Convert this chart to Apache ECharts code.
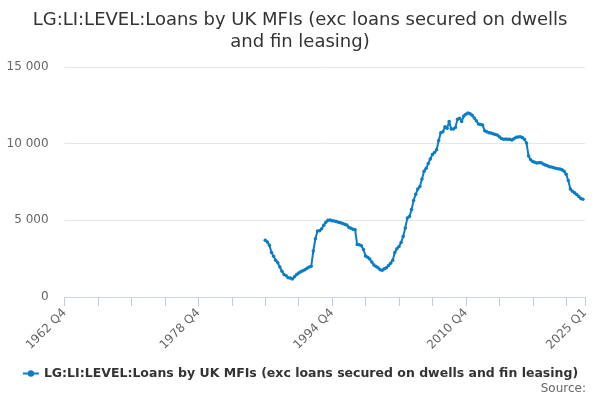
<!DOCTYPE html>
<html>
<head>
<meta charset="utf-8">
<title>LG:LI:LEVEL</title>
<script src="https://cdn.jsdelivr.net/npm/echarts@6/dist/echarts.min.js"></script>
<style>
    html, body { margin: 0; padding: 0; background: #fff; }
    #chart { width: 600px; height: 400px; }
</style>
</head>
<body>
<div id="chart"></div>
<script>
const TITLE = 'LG:LI:LEVEL:Loans by UK MFIs (exc loans secured on dwells\nand fin leasing)';
const SERIES_NAME = 'LG:LI:LEVEL:Loans by UK MFIs (exc loans secured on dwells and fin leasing)';

// quarterly axis runs 1962 Q4 .. 2025 Q1
const AXIS_START = [1962, 4];
const AXIS_END = [2025, 1];
// series begins at 1986 Q4
const SERIES_START = [1986, 4];

const loans = [
    3700, 3580, 3380, 2900, 2650, 2400, 2230, 1950, 1680, 1470,
    1380, 1260, 1240, 1180, 1320, 1470, 1560, 1640, 1710, 1780,
    1870, 1950, 2000, 3000, 3800, 4300, 4320, 4450, 4680, 4880,
    5000, 5020, 4980, 4950, 4920, 4880, 4850, 4800, 4740, 4700,
    4550, 4480, 4420, 4380, 3420, 3400, 3340, 3100, 2680, 2600,
    2480, 2280, 2090, 1990, 1900, 1770, 1740, 1840, 1900, 2050,
    2200, 2400, 2900, 3150, 3300, 3550, 3950, 4500, 5150, 5250,
    5700, 6300, 6700, 7050, 7200, 7700, 8200, 8390, 8700, 9000,
    9300, 9420, 9600, 10200, 10720, 10780, 11100, 11000, 11450, 10950,
    10950, 11050, 11600, 11650, 11450, 11800, 11920, 12000, 11950, 11850,
    11680, 11500, 11280, 11250, 11220, 10850, 10780, 10720, 10700, 10650,
    10600, 10560, 10450, 10330, 10290, 10300, 10290, 10280, 10240, 10320,
    10420, 10440, 10450, 10400, 10290, 10050, 9200, 8950, 8830, 8780,
    8740, 8760, 8760, 8680, 8610, 8560, 8500, 8480, 8430, 8390,
    8360, 8340, 8300, 8200, 8000, 7600, 7050, 6900, 6800, 6680,
    6550, 6430, 6370
];

const yTicks = [0, 5000, 10000, 15000];

const quarters = [];
for (let y = AXIS_START[0], q = AXIS_START[1]; y < AXIS_END[0] || (y === AXIS_END[0] && q <= AXIS_END[1]); ) {
    quarters.push(y + ' Q' + q);
    q++;
    if (q > 4) { q = 1; y++; }
}
const lastIndex = quarters.length - 1;
const offset = quarters.indexOf(SERIES_START[0] + ' Q' + SERIES_START[1]);
const seriesData = quarters.map((_, i) => {
    const v = loans[i - offset];
    return v === undefined ? null : v;
});

const fmtThousands = v => String(v).replace(/\B(?=(\d{3})+(?!\d))/g, ' ');

const chart = echarts.init(document.getElementById('chart'), null, { renderer: 'canvas' });
chart.setOption({
    animation: false,
    textStyle: { fontFamily: 'DejaVu Sans' },
    title: [
        {
            text: TITLE,
            left: 'center',
            top: 4,
            textStyle: {
                color: '#333333',
                fontSize: 18,
                fontWeight: 'normal',
                lineHeight: 22
            }
        },
        {
            text: 'Source:',
            right: 9,
            bottom: 0,
            textStyle: { color: '#666666', fontSize: 12, fontWeight: 'normal' }
        }
    ],
    legend: {
        top: 362,
        left: 'center',
        itemWidth: 16,
        itemHeight: 8,
        itemGap: 10,
        textStyle: { color: '#333333', fontSize: 12.5, fontWeight: 'bold' },
        data: [SERIES_NAME]
    },
    grid: {
        left: 64.6,
        right: 15,
        top: 67,
        bottom: 103,
        containLabel: false
    },
    xAxis: {
        type: 'category',
        boundaryGap: false,
        data: quarters,
        axisLine: { lineStyle: { color: '#ccd6eb', width: 1 } },
        axisTick: {
            length: 9,
            lineStyle: { color: '#c0cbe0' },
            interval: i => i % 16 === 0 || i === lastIndex
        },
        axisLabel: {
            rotate: 45,
            color: '#666666',
            fontSize: 12,
            margin: 14,
            interval: i => i % 64 === 0 || i === lastIndex
        },
        splitLine: { show: false }
    },
    yAxis: {
        type: 'value',
        min: yTicks[0],
        max: yTicks[yTicks.length - 1],
        interval: yTicks[1] - yTicks[0],
        axisLine: { show: false },
        axisTick: { show: false },
        axisLabel: {
            color: '#666666',
            fontSize: 12,
            margin: 16,
            formatter: fmtThousands
        },
        splitLine: { lineStyle: { color: '#e6e6e6', width: 1 } }
    },
    series: [
        {
            name: SERIES_NAME,
            type: 'line',
            data: seriesData,
            color: '#0a7dc6',
            symbol: 'circle',
            symbolSize: 3.5,
            showAllSymbol: true,
            lineStyle: { width: 2 }
        }
    ]
});
</script>
</body>
</html>
